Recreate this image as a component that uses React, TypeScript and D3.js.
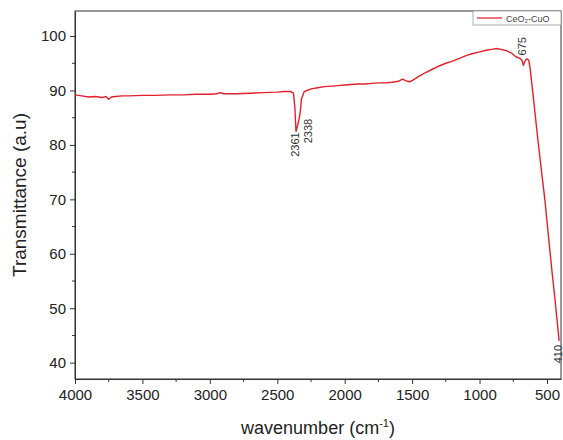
import React, { useEffect, useRef } from 'react';
import * as d3 from 'd3';

const wavenumber = [
  4000, 3950, 3900, 3850, 3800, 3770, 3750, 3730, 3700, 3650, 3600, 3500, 3400, 3300, 3200,
  3100, 3000, 2950, 2920, 2900, 2800, 2700, 2600, 2500, 2450, 2400, 2380, 2370, 2361, 2350,
  2338, 2330, 2320, 2300, 2280, 2250, 2200, 2150, 2100, 2050, 2000, 1950, 1900, 1850, 1800,
  1750, 1700, 1650, 1600, 1570, 1550, 1520, 1500, 1450, 1400, 1350, 1300, 1250, 1200, 1150,
  1100, 1050, 1000, 950, 900, 870, 850, 800, 760, 730, 700, 685, 675, 665, 655, 645, 635,
  626, 600, 570, 540, 515, 490, 463, 440, 420, 410,
];

const transmittance = [
  89.2, 89.0, 88.8, 88.9, 88.7, 88.9, 88.4, 88.8, 88.9, 89.0, 89.0, 89.1, 89.1, 89.2, 89.2,
  89.3, 89.3, 89.4, 89.6, 89.4, 89.4, 89.5, 89.6, 89.7, 89.8, 89.8, 89.5, 87.0, 82.5, 83.5,
  84.8, 86.0, 88.5, 89.8, 90.0, 90.3, 90.5, 90.7, 90.8, 90.9, 91.0, 91.1, 91.2, 91.2, 91.3,
  91.4, 91.4, 91.5, 91.7, 92.1, 91.8, 91.6, 91.8, 92.6, 93.3, 93.9, 94.5, 95.0, 95.4, 95.9,
  96.4, 96.8, 97.1, 97.4, 97.6, 97.7, 97.6, 97.3, 96.8, 96.2, 95.9, 95.5, 94.6, 95.3, 95.7,
  95.8, 95.5, 94.3, 88.5, 81.5, 75.0, 69.8, 63.5, 56.8, 51.5, 46.5, 44.0,
];

const peakPositions = [2361, 2338, 675, 410];
const peakLabels = ['2361', '2338', '675', '410'];

const xTicks = [4000, 3500, 3000, 2500, 2000, 1500, 1000, 500];
const yTicks = [40, 50, 60, 70, 80, 90, 100];
const seriesName = 'CeO₂-CuO';

const App = () => {
  const svgRef = useRef<SVGSVGElement>(null);

  useEffect(() => {
    const svg = d3.select(svgRef.current);
    svg.selectAll('*').remove();

    const width = 563;
    const height = 440;
    const margin = { top: 11, right: 2, bottom: 61, left: 75 };
    const font = "'Liberation Sans', Arial, sans-serif";
    const lineColor = '#e0202a';

    const x = d3.scaleLinear().domain([4000, 396]).range([margin.left, width - margin.right]);
    const y = d3.scaleLinear().domain([37, 104.6]).range([height - margin.bottom, margin.top]);

    const data = wavenumber.map((w, i) => ({ w, t: transmittance[i] }));

    // frame
    svg.append('rect')
      .attr('x', margin.left)
      .attr('y', margin.top)
      .attr('width', width - margin.right - margin.left)
      .attr('height', height - margin.bottom - margin.top)
      .attr('fill', 'none')
      .attr('stroke', '#333')
      .attr('stroke-width', 1);

    // x axis
    const xMinor = d3.range(3750, 400, -500);
    const gx = svg.append('g').attr('transform', `translate(0,${height - margin.bottom})`);
    gx.call(d3.axisBottom(x).tickValues(xTicks).tickSize(5).tickSizeOuter(0).tickPadding(5).tickFormat(d3.format('d')))
      .call(g => g.select('.domain').attr('stroke', '#333'))
      .call(g => g.selectAll('.tick line').attr('stroke', '#333'))
      .selectAll('text')
      .attr('fill', '#222')
      .style('font-family', font)
      .style('font-size', '15px');
    gx.selectAll('line.minor')
      .data(xMinor)
      .join('line')
      .attr('class', 'minor')
      .attr('x1', d => x(d))
      .attr('x2', d => x(d))
      .attr('y1', 0)
      .attr('y2', 3)
      .attr('stroke', '#333');

    // y axis
    const yMinor = d3.range(45, 100, 10);
    const gy = svg.append('g').attr('transform', `translate(${margin.left},0)`);
    gy.call(d3.axisLeft(y).tickValues(yTicks).tickSize(5).tickSizeOuter(0).tickPadding(4))
      .call(g => g.select('.domain').attr('stroke', '#333'))
      .call(g => g.selectAll('.tick line').attr('stroke', '#333'))
      .selectAll('text')
      .attr('fill', '#222')
      .style('font-family', font)
      .style('font-size', '15px');
    gy.selectAll('line.minor')
      .data(yMinor)
      .join('line')
      .attr('class', 'minor')
      .attr('x1', 0)
      .attr('x2', -3)
      .attr('y1', d => y(d))
      .attr('y2', d => y(d))
      .attr('stroke', '#333');

    // axis titles
    const xTitle = svg.append('text')
      .attr('x', (margin.left + width - margin.right) / 2)
      .attr('y', 434)
      .attr('text-anchor', 'middle')
      .attr('fill', '#222')
      .style('font-family', font)
      .style('font-size', '18px');
    xTitle.append('tspan').text('wavenumber (cm');
    xTitle.append('tspan').attr('dy', -7).style('font-size', '11px').text('-1');
    xTitle.append('tspan').attr('dy', 7).text(')');

    svg.append('text')
      .attr('transform', `translate(26,${(margin.top + height - margin.bottom) / 2}) rotate(-90)`)
      .attr('text-anchor', 'middle')
      .attr('fill', '#222')
      .style('font-family', font)
      .style('font-size', '19px')
      .text('Transmittance (a.u)');

    // spectrum
    svg.append('path')
      .datum(data)
      .attr('d', d3.line<{ w: number; t: number }>().x(d => x(d.w)).y(d => y(d.t)))
      .attr('fill', 'none')
      .attr('stroke', lineColor)
      .attr('stroke-width', 1.4)
      .attr('stroke-linejoin', 'round');

    // peak annotations
    const valueAt = (w: number) => transmittance[wavenumber.indexOf(w)];
    const placement: Record<string, { dx: number; dy: number; anchor: string }> = {
      '2361': { dx: 3, dy: 1, anchor: 'end' },
      '2338': { dx: 13, dy: 0, anchor: 'end' },
      '675': { dx: 3, dy: -10, anchor: 'start' },
      '410': { dx: 3, dy: 4, anchor: 'end' },
    };
    peakPositions.forEach((p, i) => {
      const lab = peakLabels[i];
      const pl = placement[lab];
      const px = x(p) + pl.dx;
      const py = y(valueAt(p)) + pl.dy;
      svg.append('text')
        .attr('transform', `translate(${px},${py}) rotate(-90)`)
        .attr('text-anchor', pl.anchor)
        .attr('fill', '#333')
        .style('font-family', font)
        .style('font-size', '11px')
        .text(lab);
    });

    // legend
    const lg = svg.append('g');
    lg.append('rect')
      .attr('x', 473)
      .attr('y', margin.top)
      .attr('width', width - margin.right - 473)
      .attr('height', 14)
      .attr('fill', '#fff')
      .attr('stroke', '#999')
      .attr('stroke-width', 0.8);
    lg.append('line')
      .attr('x1', 477)
      .attr('x2', 502)
      .attr('y1', 18)
      .attr('y2', 18)
      .attr('stroke', lineColor)
      .attr('stroke-width', 1.2);
    lg.append('text')
      .attr('x', 506)
      .attr('y', 21.5)
      .attr('fill', '#444')
      .style('font-family', font)
      .style('font-size', '9px')
      .text(seriesName);
  }, []);

  return (
    <svg
      ref={svgRef}
      width={563}
      height={440}
      viewBox="0 0 563 440"
      style={{ position: 'absolute', left: 0, top: 0, background: '#fff' }}
    />
  );
};

export default App;
